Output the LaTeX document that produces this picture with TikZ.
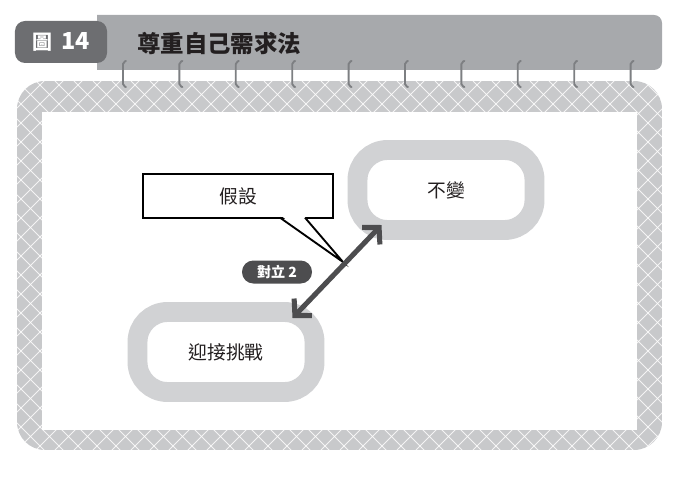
\documentclass[tikz,border=0pt]{standalone}
\usepackage{fontspec}
\newfontfamily\cjk{Noto Sans CJK TC}
\usetikzlibrary{positioning,arrows.meta,calc}
\definecolor{bargray}{HTML}{A7A9AC}
\definecolor{tabgray}{HTML}{6D6E71}
\definecolor{framegray}{HTML}{C8C9CB}
\definecolor{boxgray}{HTML}{D1D2D4}
\definecolor{darkaccent}{HTML}{4D4D4F}
\definecolor{ringgray}{HTML}{7D7F82}
\definecolor{inktext}{HTML}{231F20}

\begin{document}
\begin{tikzpicture}[x=0.03cm,y=-0.03cm,font=\cjk,>={Straight Barb[length=10pt,width=21pt]},
  goalbox/.style={draw=boxgray,fill=white,line width=17pt,rounded corners=0.9cm,minimum width=5.31cm,minimum height=2.4cm,outer sep=0pt,text=inktext,font=\cjk\fontsize{16}{18}\selectfont},
  hatch/.style={white,line width=0.7pt,opacity=0.8},
  ring/.style={ringgray,line width=1.6pt,rounded corners=0.06cm,line cap=round}]
  \useasboundingbox (0,0) rectangle (684,485);

  % header
  \fill[bargray] (97,70) -- (97,15) [rounded corners=0.24cm] -- (662,15) -- (662,70) [sharp corners] -- cycle;
  \node[fill=tabgray,rounded corners=0.3cm,minimum width=2.76cm,minimum height=1.26cm,text=white,font=\cjk\bfseries] (tab) at (61,42) {{\fontsize{17}{19}\selectfont 圖}\hspace{8pt}{\fontsize{20}{22}\selectfont 14}};
  \node[anchor=west,inner sep=0pt,text=inktext,font=\cjk\bfseries\fontsize{20}{22}\selectfont] (title) at (137,44) {尊重自己需求法};

  % patterned frame
  \begin{scope}
    \clip[rounded corners=0.84cm] (17,81) rectangle (662,450);
    \fill[framegray] (17,81) rectangle (662,450);
    \foreach \i in {-420,-401,...,670} {
      \draw[hatch] (\i,450) -- ++(400,-400);
      \draw[hatch] (\i,81) -- ++(400,400);
    }
  \end{scope}
  \fill[white] (42,112) rectangle (637,430);

  % rings
  \foreach \k in {0,...,9} {
    \pgfmathsetmacro{\rx}{123+56.4*\k}
    \draw[ring] ({\rx+3},61) -- (\rx,62) -- (\rx,86) -- ({\rx+3},87);
  }

  % content
  \node[goalbox] (change) at (446,190) {不變};
  \node[goalbox] (challenge) at (226,352) {迎接挑戰};

  \node[draw=black,fill=white,line width=1.6pt,minimum width=5.7cm,minimum height=1.3cm,outer sep=0pt,text=inktext,font=\cjk\fontsize{16}{18}\selectfont] (hyp) at (238,196) {假設};
  \coordinate (tip) at (343,262);
  \fill[white] ($(hyp.south west)+(138,-2)$) -- (tip) -- ($(hyp.south west)+(161,-2)$) -- cycle;
  \draw[line width=1.6pt,miter limit=20] ($(hyp.south west)+(137,0)$) -- (tip) -- ($(hyp.south west)+(162,0)$);

  \draw[<->,darkaccent,line width=4.3pt] ($(challenge.north east)+(-22,6)$) -- ($(change.south west)+(24,-5)$);

  \node[fill=darkaccent,rounded corners=0.34cm,minimum width=2.1cm,minimum height=0.69cm,inner sep=0pt,text=white,font=\cjk\bfseries\fontsize{12}{14}\selectfont] (conflict) at (277,272) {對立 2};
\end{tikzpicture}
\end{document}
